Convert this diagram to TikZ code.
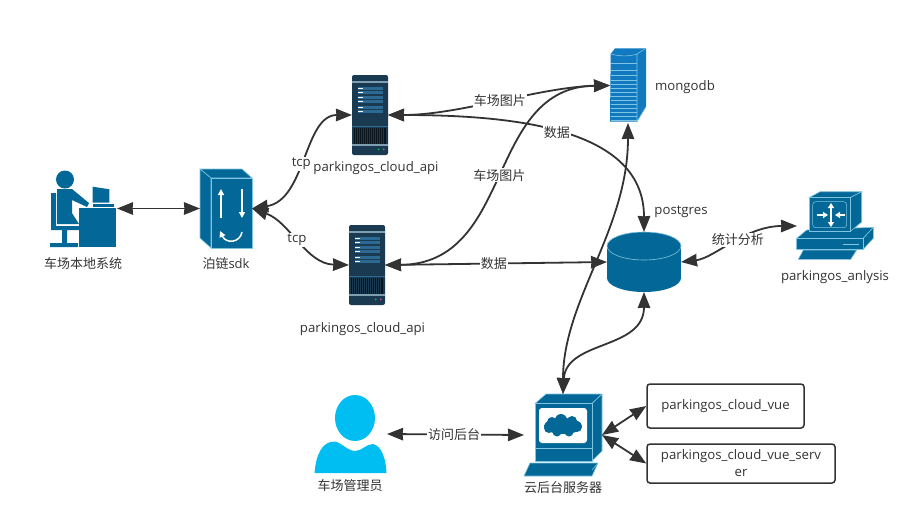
\documentclass[tikz,border=0pt]{standalone}
\usepackage{fontspec}
\setmainfont{Open Sans}
\newfontfamily\cjk{Noto Sans CJK SC}
\usetikzlibrary{arrows.meta}
\definecolor{iconblue}{HTML}{036897}
\definecolor{iconline}{HTML}{7FC4E0}
\definecolor{mongoblue}{HTML}{1079BF}
\definecolor{userblue}{HTML}{00BEF2}
\definecolor{rackdark}{HTML}{1A3A52}
\definecolor{rackslot}{HTML}{2C6A94}
\definecolor{rackband}{HTML}{7F9FB0}
\definecolor{linkgray}{HTML}{333333}
\begin{document}
\begin{tikzpicture}[x=1pt,y=-1pt,
	iconbox/.style={inner sep=0pt,outer sep=0pt},
	iconpart/.style={fill=iconblue,draw=iconline,line width=0.6pt,line join=round},
	link/.style={draw=linkgray,line width=1.8pt,{Stealth[length=16pt,width=12.5pt,inset=0.4pt]}-{Stealth[length=16pt,width=12.5pt,inset=0.4pt]}},
	namelabel/.style={inner sep=1pt,text=linkgray,font=\fontsize{13.2}{15}\selectfont},
	cnlabel/.style={inner sep=1pt,text=linkgray,font=\cjk\fontsize{13}{15}\selectfont},
	edgelabel/.style={cnlabel,fill=white},
	tcplabel/.style={namelabel,fill=white},
	textbox/.style={draw=linkgray,line width=1.5pt,rounded corners=3pt,align=center,text=linkgray,font=\fontsize{13.2}{17}\selectfont,inner sep=0pt}]
	\useasboundingbox (0,0) rectangle (905,512);

	\node[iconbox,minimum width=67pt,minimum height=77pt] (desk) at (83.5,208.5) {};
	\node[iconbox,minimum width=52pt,minimum height=79pt] (sdk) at (226,208.5) {};
	\node[iconbox,minimum width=36pt,minimum height=80pt] (apitop) at (370,115) {};
	\node[iconbox,minimum width=36pt,minimum height=80pt] (apibot) at (367,265) {};
	\node[iconbox,minimum width=36pt,minimum height=75pt] (mongo) at (628,85.5) {};
	\node[iconbox,minimum width=74pt,minimum height=60pt] (pg) at (644,262) {};
	\node[iconbox,minimum width=76pt,minimum height=68pt] (anlysis) at (835,226) {};
	\node[iconbox,minimum width=78pt,minimum height=82pt] (cloudsrv) at (563,435) {};
	\node[iconbox,minimum width=73pt,minimum height=78pt] (manager) at (350.5,434) {};

	\fill[iconblue] (65,179.5) circle (9);
	\fill[iconblue] (57,189) -- (72,189) -- (89,203) -- (87,207) -- (72,200) -- (72,213) -- (79,224) -- (57,224) -- cycle;
	\fill[iconblue] (51,193) -- (56,193) -- (56,226) -- (79,226) -- (79,230) -- (67,230) -- (67,243) -- (78,243) -- (78,247) -- (50,247) -- (50,243) -- (62,243) -- (62,230) -- (51,230) -- cycle;
	\fill[iconblue] (79.3,208.3) rectangle (116,247.3);
	\fill[iconblue] (92.7,186.7) -- (109.3,189.3) -- (109.3,202.7) -- (92.7,202.7) -- cycle;
	\fill[iconblue] (92.7,203.5) rectangle (114,207);

	\draw[iconpart] (200,169) -- (242,169) -- (252,178) -- (211,178) -- cycle;
	\draw[iconpart] (200,169) -- (211,178) -- (211,248) -- (200,238) -- cycle;
	\draw[iconpart] (211,178) rectangle (252,248);
	\draw[white,line width=1.5pt,-{Triangle[length=6pt,width=6pt]}] (221,218) -- (221,189);
	\draw[white,line width=1.5pt,-{Triangle[length=6pt,width=6pt]}] (242,189) -- (242,218);
	\draw[white,line width=1.5pt,-{Triangle[length=6pt,width=6pt]}] (242,232) .. controls (240,243) and (226,244) .. (220,231);

	\foreach \rx/\ry in {352/75,349/225} {
		\begin{scope}[shift={(\rx,\ry)}]
			\fill[rackdark,rounded corners=2pt] (0,0) rectangle (36,80);
			\fill[rackband] (0,6) rectangle (36,8);
			\fill[rackband] (0,69) rectangle (36,71);
			\foreach \sa/\sb in {11.7/15,16/19.3,20.7/24.3,25/28.3,31.3/34.3,35/38.3} {
				\fill[rackslot] (5.7,\sa) rectangle (31,\sb);
				\fill[white] (5.7,{(\sa+\sb)/2-0.4}) rectangle (10.7,{(\sa+\sb)/2+0.4});
			}
			\draw[rackslot,line width=0.5pt] (0,51.7) -- (36,51.7);
			\fill[black!65!rackdark] (2,52.5) rectangle (34,69);
			\foreach \gx in {3.5,5.5,...,33} {
				\draw[rackdark,line width=0.5pt] (\gx,52.5) -- (\gx,69);
			}
			\fill[green!50!teal] (26.7,74.3) circle (1);
			\fill[magenta!60!gray] (31.7,74.3) circle (1);
		\end{scope}
	}

	\fill[mongoblue] (610.7,54) -- (615,48.3) -- (646,48.3) -- (646,106.7) -- (637,121.7) -- (610,121.7) -- cycle;
	\draw[iconline,line width=0.6pt] (637,54) -- (646,48.3);
	\draw[iconline,line width=0.6pt] (637,54) -- (637,121.7) -- (646,106.7);
	\draw[iconline,line width=0.6pt] (610.7,54) .. controls (620,56.5) and (630,56.5) .. (637,54);
	\foreach \my in {63.3,70.7,75,80,84,88,92,96,100,104,108,112,116,120} {
		\draw[iconline,line width=0.6pt] (610.5,\my) -- (637,\my);
	}

	\fill[iconblue] (607,246) rectangle (681,278);
	\fill[iconblue] (644,278) ellipse (37 and 14);
	\draw[fill=iconblue,draw=iconline,line width=0.6pt] (644,246) ellipse (37 and 14);

	\draw[iconpart] (806.7,230) -- (873.3,227.3) -- (863.3,238.3) -- (796.7,238.3) -- cycle;
	\draw[iconpart] (873.3,227.3) -- (873.3,238.3) -- (863.3,249.3) -- (863.3,238.3) -- cycle;
	\draw[iconpart] (796.7,238.3) rectangle (863.3,249.3);
	\draw[iconline,line width=0.8pt] (843.3,244) -- (859.3,244);
	\draw[iconpart] (803.3,250) -- (856.7,250) -- (850.7,259.3) -- (798.3,259.3) -- cycle;
	\draw[iconpart] (809,197.7) -- (820,191.7) -- (861.7,191.7) -- (850,197.7) -- cycle;
	\draw[iconpart] (861.7,191.7) -- (861.7,222) -- (850,231.7) -- (850,197.7) -- cycle;
	\draw[iconpart] (809,197.7) rectangle (850,231.7);
	\draw[iconline,line width=0.5pt,rounded corners=3pt] (812.7,201.7) rectangle (846.7,227.7);
	\draw[white,line width=1.5pt,-{Triangle[length=5pt,width=6pt]}] (816.7,215) -- (828,215);
	\draw[white,line width=1.5pt,-{Triangle[length=5pt,width=6pt]}] (845,215) -- (835,215);
	\draw[white,line width=1.5pt,{Triangle[length=5pt,width=6pt]}-{Triangle[length=5pt,width=6pt]}] (831,203) -- (831,227);

	\draw[iconpart] (535,403.5) -- (546,394) -- (602,394) -- (592,403.5) -- cycle;
	\draw[iconpart] (602,394) -- (602,451) -- (592,461) -- (592,403.5) -- cycle;
	\draw[iconpart] (535,403.5) rectangle (592,461);
	\draw[iconline,line width=0.6pt] (535,448) -- (592,448);
	\fill[white,rounded corners=3pt] (539,408) rectangle (587,443);
	\fill[iconblue] (563,426) ellipse (19 and 8);
	\foreach \cx/\cy/\cr in {552/422/5,561/420/6,572/421/5,577/427/5,569/432/4.5,557/432/4.5,549/428/5} {
		\fill[iconblue] (\cx,\cy) circle (\cr);
	}
	\draw[iconpart] (530,463) -- (598,463) -- (592,476) -- (524,476) -- cycle;
	\draw[iconline,line width=0.6pt] (592,470) -- (598,463);

	\fill[userblue] (355,418) ellipse (20 and 23);
	\fill[userblue] (314.5,473) .. controls (316,455) and (322,441) .. (335,441.6) .. controls (342,443) and (348,451) .. (355,451) .. controls (362,451) and (366,444) .. (373,444) .. controls (382,446) and (386,460) .. (386.5,473) -- cycle;

	\node[cnlabel] (desklabel) at (83,264) {车场本地系统};
	\node[cnlabel] (sdklabel) at (226,264) {泊链\fontspec{Open Sans}sdk};
	\node[namelabel] (apitoplabel) at (376,168.5) {parkingos\_cloud\_api};
	\node[namelabel] (apibotlabel) at (362.5,329.5) {parkingos\_cloud\_api};
	\node[namelabel] (mongolabel) at (685,87) {mongodb};
	\node[namelabel] (pglabel) at (681,212) {postgres};
	\node[namelabel] (anlysislabel) at (835,277.5) {parkingos\_anlysis};
	\node[cnlabel] (managerlabel) at (350,486) {车场管理员};
	\node[cnlabel] (cloudlabel) at (563,488) {云后台服务器};

	\node[textbox,minimum width=157pt,minimum height=44pt] (vue) at (725.5,406) {parkingos\_cloud\_vue};
	\node[textbox,text width=188pt,minimum height=39pt] (vueserver) at (741,463.5) {parkingos\_cloud\_vue\_serv\\er};

	\draw[link] (desk.east) -- (sdk.west);
	\draw[link] (sdk.east) .. controls (306,200) and (304,115) .. node[tcplabel,pos=0.46] (tcptop) {tcp} (apitop.west);
	\draw[link] (sdk.east) .. controls (290,222) and (306,264) .. node[tcplabel,pos=0.48] (tcpbot) {tcp} (apibot.west);
	\draw[link] (apitop.east) .. controls (460,115) and (540,87) .. node[edgelabel,pos=0.5] (imgtop) {车场图片} (mongo.west);
	\draw[link] (apitop.east) .. controls (520,115) and (644,130) .. node[edgelabel,pos=0.47] (datatop) {数据} (pg.north);
	\draw[link] (apibot.east) .. controls (515,264) and (485,87) .. node[edgelabel,pos=0.5] (imgbot) {车场图片} (mongo.west);
	\draw[link] (apibot.east) -- node[edgelabel,pos=0.49] (databot) {数据} (pg.west);
	\draw[link] (pg.east) .. controls (715,258) and (745,226) .. node[edgelabel,pos=0.55] (stats) {统计分析} (anlysis.west);
	\draw[link] (cloudsrv.north) .. controls (563,300) and (628,230) .. (mongo.south);
	\draw[link] (cloudsrv.north) .. controls (566,340) and (644,350) .. (pg.south);
	\draw[link] (manager.east) -- node[edgelabel,pos=0.49] (visit) {访问后台} (cloudsrv.west);
	\draw[link] (cloudsrv.east) -- (vue.west);
	\draw[link] (cloudsrv.east) -- (vueserver.west);
\end{tikzpicture}
\end{document}
